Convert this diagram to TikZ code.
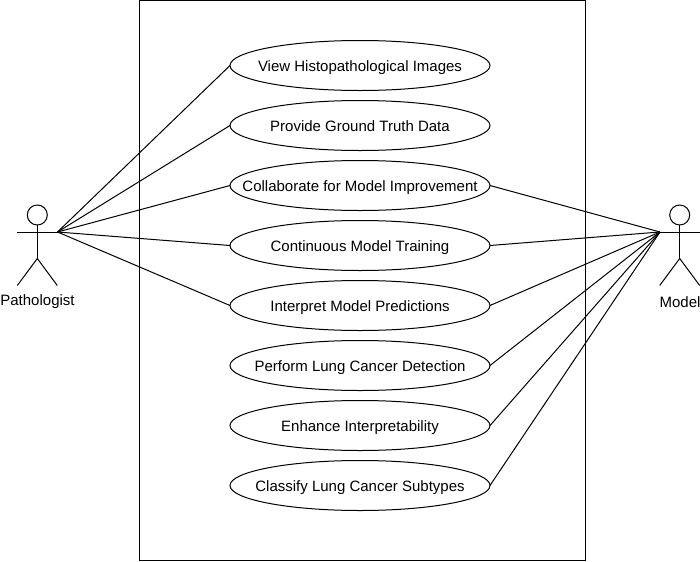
\documentclass[tikz,border=0pt]{standalone}
\usepackage{fontspec}
\setmainfont{Liberation Sans}
\usetikzlibrary{shapes.geometric}
\newcommand{\uctext}[1]{\raisebox{-0.43em}[0pt][0pt]{\makebox[0pt]{#1}}}
\tikzset{
 px/.style={x=0.75pt,y=-0.75pt},
 usecase/.style={draw=black,ellipse,fill=white,minimum width=195pt,minimum height=37.5pt,inner sep=0pt,outer sep=0pt,font=\fontsize{11.25pt}{13pt}\selectfont,line width=0.75pt},
 lbl/.style={font=\fontsize{11.25pt}{13pt}\selectfont,inner sep=0pt},
 ln/.style={draw=black,line width=0.75pt},
 head/.style={draw=black,circle,minimum size=15pt,inner sep=0pt,outer sep=0pt,line width=0.75pt}
}
\begin{document}
\begin{tikzpicture}[px]
\useasboundingbox (0,0) rectangle (700,561);
\fill[white] (0,0) rectangle (700,561);
\draw[ln] (139.6,0) rectangle (585.5,560);
\node[usecase] (a) at (360,65.5) {\uctext{View Histopathological Images}};
\node[usecase] (b) at (360,125.5) {\uctext{Provide Ground Truth Data}};
\node[usecase] (c) at (360,185.5) {\uctext{Collaborate for Model Improvement}};
\node[usecase] (d) at (360,245.5) {\uctext{Continuous Model Training}};
\node[usecase] (e) at (360,305.5) {\uctext{Interpret Model Predictions}};
\node[usecase] (f) at (360,365.5) {\uctext{Perform Lung Cancer Detection}};
\node[usecase] (g) at (360,425.5) {\uctext{Enhance Interpretability}};
\node[usecase] (h) at (360,485.5) {\uctext{Classify Lung Cancer Subtypes}};
% Pathologist actor
\coordinate (pl) at (57.5,232);
\coordinate (ml) at (660,232);
\node[head] (phead) at (37.3,215) {};
\coordinate (phip) at (37.3,258.5);
\coordinate (parml) at (17.3,232);
\coordinate (pfl) at (17.3,285.5);
\coordinate (pfr) at (57.3,285.5);
\draw[ln] (phead.south) -- (phip);
\draw[ln] (parml) -- (pl);
\draw[ln] (pfl) -- (phip) -- (pfr);
\node[lbl,anchor=center] (plabel) at (37.5,302) {Pathologist};
% Model actor
\node[head] (mhead) at (679.7,215) {};
\coordinate (mhip) at (679.7,258.5);
\coordinate (marmr) at (700,232);
\coordinate (mfl) at (659.7,285.5);
\coordinate (mfr) at (699.7,285.5);
\draw[ln] (mhead.south) -- (mhip);
\draw[ln] (ml) -- (marmr);
\draw[ln] (mfl) -- (mhip) -- (mfr);
\node[lbl,anchor=center] (mlabel) at (680,302) {Model};
% connectors
\draw[ln] (pl) -- (a.west);
\draw[ln] (pl) -- (b.west);
\draw[ln] (pl) -- (c.west);
\draw[ln] (pl) -- (d.west);
\draw[ln] (pl) -- (e.west);
\draw[ln] (ml) -- (c.east);
\draw[ln] (ml) -- (d.east);
\draw[ln] (ml) -- (e.east);
\draw[ln] (ml) -- (f.east);
\draw[ln] (ml) -- (g.east);
\draw[ln] (ml) -- (h.east);
\end{tikzpicture}
\end{document}
